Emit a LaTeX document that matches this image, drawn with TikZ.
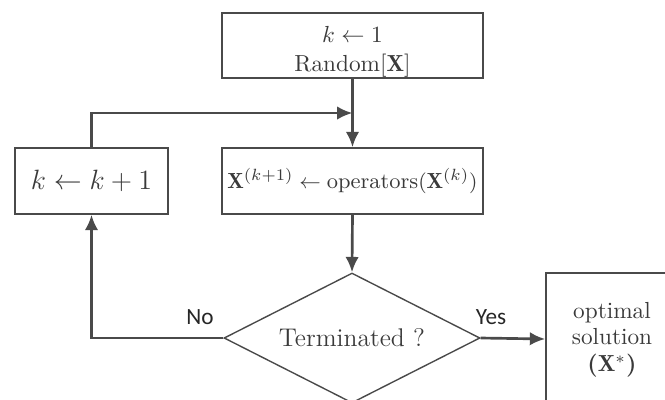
\documentclass[tikz,border=0pt]{standalone}
\usepackage{fontspec}
\newfontfamily\labelfont{Carlito}
\usetikzlibrary{shapes.geometric,arrows.meta}
\newdimen\pxu
\pxu=0.43pt
\definecolor{linegray}{HTML}{4A4A4A}
\definecolor{textgray}{HTML}{3A3A3A}
\tikzset{
  x=\pxu, y=-\pxu,
  box/.style={draw=linegray, line width=0.7pt, rectangle, inner sep=0pt,
    text=textgray, align=center},
  boxtext/.style={inner sep=0pt, text=textgray, align=center},
  decision/.style={draw=linegray, line width=0.6pt, diamond, inner sep=0pt,
    text=textgray, minimum width=256\pxu, minimum height=130\pxu, aspect=2},
  flow/.style={draw=linegray, line width=1.15pt,
    -{Latex[length=6.6pt,width=5.8pt]}},
  branch/.style={font=\labelfont, text=black!85}
}
\begin{document}
\begin{tikzpicture}
\useasboundingbox (0,0) rectangle (665,399);
% process boxes
\node[box, minimum width=261\pxu, minimum height=65\pxu] (init) at (352.5,45.5) {};
\node[boxtext] (initlabel) at (352.5,52)
  {$k \leftarrow 1$\\[0.5pt] Random[$\mathbf{X}$]};
\node[box, minimum width=261\pxu, minimum height=66\pxu,
  font=\fontsize{9.4}{11}\selectfont] (update) at (352.5,181)
  {$\mathbf{X}^{(k+1)} \leftarrow \mathrm{operators}(\mathbf{X}^{(k)})$};
\node[box, minimum width=153\pxu, minimum height=66\pxu,
  font=\fontsize{13}{15}\selectfont] (incr) at (91.5,181)
  {$k \leftarrow k+1$};
% test
\node[decision, font=\fontsize{11}{13}\selectfont] (test) at (352,338) {Terminated ?};
% result box, running past the lower and right edges
\node[box, minimum width=132\pxu, minimum height=132\pxu] (result) at (612,339) {};
\node[boxtext, font=\fontsize{10}{11}\selectfont] (resultlabel) at (612,340)
  {optimal\\ solution\\[1pt] \textbf{(}$\mathbf{X}^{*}$\textbf{)}};
% loop junction on the vertical feed
\coordinate (join) at (352.5,113);
% connectors
\draw[flow] (init.south) -- (update.north);
\draw[flow] (incr.north) |- (join);
\draw[flow] (update.south) -- (test.north);
\draw[flow] (test.west) -| (incr.south);
\draw[flow] (test.east) -- (result.west);
% branch labels
\node[branch] (no) at (200,317) {No};
\node[branch] (yes) at (491,317) {Yes};
\end{tikzpicture}
\end{document}
